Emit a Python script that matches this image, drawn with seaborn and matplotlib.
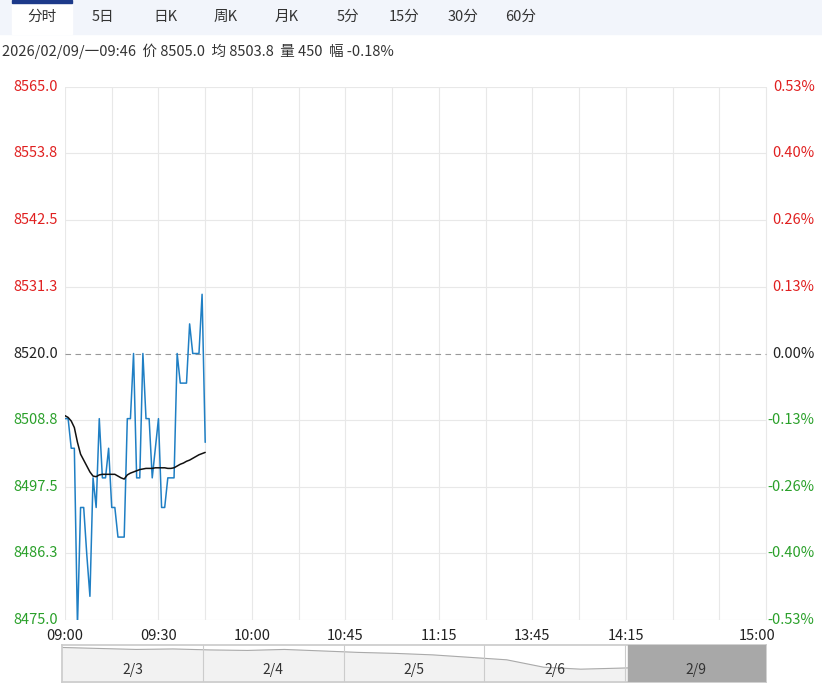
import matplotlib
matplotlib.use("Agg")
import matplotlib.pyplot as plt
import seaborn as sns
import numpy as np
import pandas as pd

sns.set_theme(style="white")
plt.rcParams['font.family'] = ['Noto Sans CJK SC', 'DejaVu Sans']

price = [8509, 8509, 8504, 8504, 8474, 8494, 8494, 8486, 8479, 8499, 8494, 8509, 8499, 8499,
         8504, 8494, 8494, 8489, 8489, 8489, 8509, 8509, 8520, 8499, 8499, 8520, 8509, 8509,
         8499, 8504, 8509, 8494, 8494, 8499, 8499, 8499, 8520, 8515, 8515, 8515, 8525, 8520,
         8520, 8520, 8530, 8505]
avg = [8509.5, 8509.2, 8508.6, 8507.5, 8505, 8503, 8502, 8501, 8500, 8499.3, 8499.2, 8499.5,
       8499.6, 8499.6, 8499.6, 8499.6, 8499.6, 8499.3, 8499, 8498.8, 8499.5, 8499.8, 8500,
       8500.2, 8500.4, 8500.5, 8500.6, 8500.6, 8500.6, 8500.7, 8500.7, 8500.7, 8500.7, 8500.6,
       8500.6, 8500.7, 8501, 8501.3, 8501.5, 8501.8, 8502, 8502.3, 8502.6, 8502.9, 8503.1, 8503.3]
left_ticks = [8475.0, 8486.3, 8497.5, 8508.8, 8520.0, 8531.3, 8542.5, 8553.8, 8565.0]
right_labels = ["-0.53%", "-0.40%", "-0.26%", "-0.13%", "0.00%", "0.13%", "0.26%", "0.40%", "0.53%"]
time_pos = [0, 30, 60, 90, 120, 150, 180, 222]
time_labels = ["09:00", "09:30", "10:00", "10:45", "11:15", "13:45", "14:15", "15:00"]
tabs = ["分时", "5日", "日K", "周K", "月K", "5分", "15分", "30分", "60分"]
nav_days = ["2/3", "2/4", "2/5", "2/6", "2/9"]
nav_vals = [8600, 8598, 8596, 8597, 8595, 8594, 8596, 8593, 8590, 8588, 8585, 8580, 8575,
            8560, 8556, 8558, 8560, 8562, 8555, 8540]

W, H = 822, 687
fig = plt.figure(figsize=(W/100, H/100), dpi=100)
def fx(x): return x / W
def fy(y): return 1 - y / H

fig.patches.append(plt.Rectangle((0, fy(34)), 1, 34/H, transform=fig.transFigure, color="#f2f5fb", zorder=0))
fig.patches.append(plt.Rectangle((fx(12), fy(34)), 60/W, 34/H, transform=fig.transFigure, color="white", zorder=1))
fig.patches.append(plt.Rectangle((fx(12), fy(3)), 60/W, 3/H, transform=fig.transFigure, color="#1d3a8a", zorder=2))
tab_x = [42, 103, 165, 226, 287, 348, 404, 463, 521]
for t, x in zip(tabs, tab_x):
    fig.text(fx(x), fy(17), t, ha="center", va="center", fontsize=10.5, color="#333333")
fig.text(fx(2), fy(51), "2026/02/09/一09:46  价 8505.0  均 8503.8  量 450  幅 -0.18%",
         ha="left", va="center", fontsize=10.5, color="#333333")

px_per_min = (766 - 65) / 225
ax = fig.add_axes([fx(65), fy(620), (820-65)/W, (620-87)/H])
df = pd.DataFrame({"t": np.arange(len(price)), "price": price, "avg": avg})
sns.lineplot(data=df, x="t", y="price", ax=ax, color="#1f7fc4", lw=1.1)
sns.lineplot(data=df, x="t", y="avg", ax=ax, color="#111111", lw=1.1)
ax.set_xlim(0, (820 - 65) / px_per_min)
ax.set_ylim(8475, 8565)
for x in range(0, 226, 15):
    ax.axvline(x, color="#e8e8e8", lw=0.8, zorder=0)
for y in left_ticks:
    if y != 8520.0:
        ax.hlines(y, 0, 225, color="#e8e8e8", lw=0.8, zorder=0)
ax.hlines(8520.0, 0, 225, color="#999999", lw=0.8, linestyles=(0, (5, 4)), zorder=0)
for s in ax.spines.values():
    s.set_visible(False)
ax.set_xticks([]); ax.set_yticks([])
ax.set_xlabel(""); ax.set_ylabel("")
for y, r in zip(left_ticks, right_labels):
    c = "#e02020" if y > 8520 else ("#2aa02a" if y < 8520 else "#222222")
    ax.text(-0.069, y, f"{y:.1f}", transform=ax.get_yaxis_transform(), ha="left", va="center", fontsize=10.5, color=c)
    ax.text(0.993, y, r, transform=ax.get_yaxis_transform(), ha="right", va="center", fontsize=10.5, color=c)
for p, l in zip(time_pos, time_labels):
    ax.text(p, -0.03, l, transform=ax.get_xaxis_transform(), ha="center", va="center", fontsize=10.5, color="#222222")

nav = fig.add_axes([fx(62), fy(682), (766-62)/W, (682-645)/H])
nx = np.linspace(0, 5, len(nav_vals))
nav.plot(nx, nav_vals, color="#aaaaaa", lw=0.8)
nav.fill_between(nx, nav_vals, 8530, color="#f2f2f2")
nav.set_xlim(0, 5); nav.set_ylim(8530, 8605)
nav.axvspan(4.02, 5, color="#a8a8a8", zorder=3)
for i in range(1, 5):
    nav.axvline(i, color="#cccccc", lw=0.8)
for i, d in enumerate(nav_days):
    nav.text(i + 0.5, 8555, d, ha="center", va="center", fontsize=10, color="#333333", zorder=4)
nav.set_xticks([]); nav.set_yticks([])
for s in nav.spines.values():
    s.set_color("#cccccc")

fig.savefig("out.png", dpi=100)
